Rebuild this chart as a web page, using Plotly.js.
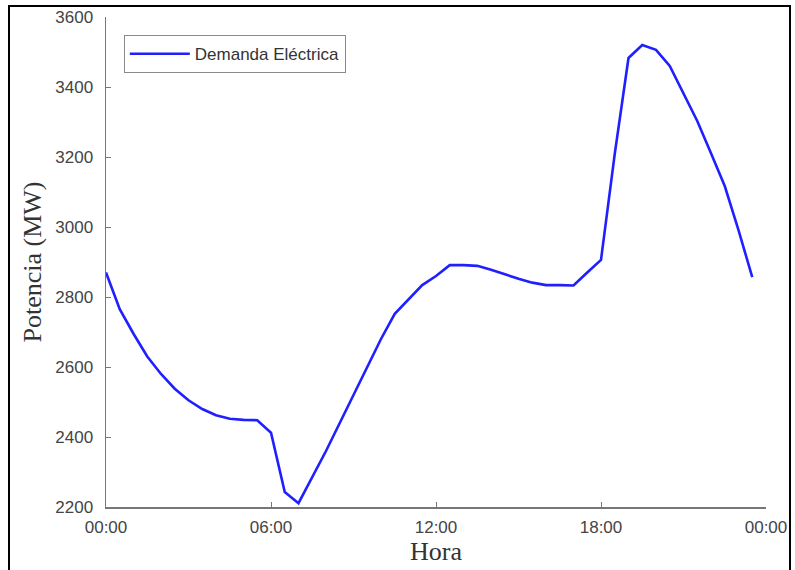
<!DOCTYPE html>
<html>
<head>
<meta charset="utf-8">
<script src="https://cdn.plot.ly/plotly-3.0.1.min.js"></script>
<style>
  html, body { margin: 0; padding: 0; background: #ffffff; }
  #chart { width: 795px; height: 570px; position: relative; }
  #frame { position: absolute; left: 8px; top: 5px; width: 779px; height: 600px; border: 2px solid #000; pointer-events: none; }
</style>
</head>
<body>
<div id="chart"></div>
<div id="frame"></div>
<script>
// Hours of day (0 = 00:00, 23.5 = 23:30)
const hours = [0,0.5,1,1.5,2,2.5,3,3.5,4,4.5,5,5.5,6,6.5,7,7.5,8,8.5,9,9.5,10,10.5,11,11.5,
               12,12.5,13,13.5,14,14.5,15,15.5,16,16.5,17,17.5,18,18.5,19,19.5,20,20.5,21,21.5,22,22.5,23,23.5];
// Electric demand (MW)
const demand = [2870,2765,2695,2630,2580,2538,2505,2480,2462,2452,2449,2448,2412,2243,2211,2286,2360,2440,2520,2600,2680,2752,2794,2834,
                2860,2891,2891,2889,2878,2864,2852,2841,2834,2834,2833,2870,2906,3209,3483,3520,3506,3460,3382,3303,3211,3117,2991,2857];
const tickVals = [0,6,12,18,24];
const tickText = ["00:00","06:00","12:00","18:00","00:00"];
const seriesName = "Demanda Eléctrica";

const trace = {
  x: hours, y: demand, type: "scatter", mode: "lines", name: seriesName,
  line: { color: "#2020ff", width: 2.6 }
};

const tickFont = { family: "Liberation Sans, Arial, sans-serif", size: 17, color: "#444444" };
const titleFont = { family: "Liberation Serif, Times New Roman, serif", size: 26, color: "#333333" };

const layout = {
  width: 795, height: 570,
  margin: { l: 106, r: 29, t: 17, b: 63 },
  paper_bgcolor: "#ffffff", plot_bgcolor: "#ffffff",
  showlegend: true,
  legend: {
    x: 0.027, y: 0.963, xanchor: "left", yanchor: "top",
    bgcolor: "#ffffff", bordercolor: "#8a8a8a", borderwidth: 1,
    font: { family: "Liberation Sans, Arial, sans-serif", size: 17, color: "#333333" },
    itemwidth: 60
  },
  xaxis: {
    range: [0, 24], tickvals: tickVals, ticktext: tickText,
    showgrid: false, zeroline: false, showline: true, linecolor: "#777777", linewidth: 1.5,
    ticks: "inside", ticklen: 5, tickcolor: "#777777", ticklabelstandoff: 4,
    tickfont: tickFont,
    title: { text: "Hora", font: titleFont, standoff: 2 }
  },
  yaxis: {
    range: [2200, 3600], dtick: 200, tick0: 2200,
    showgrid: false, zeroline: false, showline: true, linecolor: "#777777", linewidth: 1.5,
    ticks: "inside", ticklen: 5, tickcolor: "#777777", ticklabelstandoff: 8,
    tickfont: tickFont,
    title: { text: "Potencia (MW)", font: titleFont, standoff: 6 }
  }
};

Plotly.newPlot("chart", [trace], layout, { displayModeBar: false, staticPlot: true });
</script>
</body>
</html>
